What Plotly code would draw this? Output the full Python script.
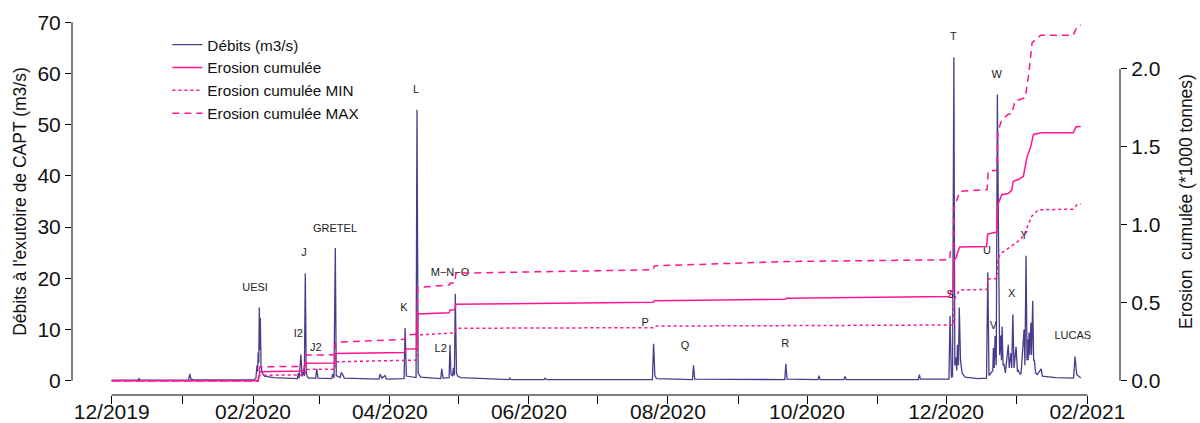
import plotly.graph_objects as go

# ---------------- data ----------------
# Discharge at outlet (m3/s)
deb_dates = [
    "2019-12-01 00:00", "2019-12-12 12:00", "2019-12-13 00:00", "2019-12-13 12:00",
    "2020-01-03 18:00", "2020-01-04 06:00", "2020-01-04 18:00", "2020-01-06 00:00",
    "2020-02-01 12:00", "2020-02-02 06:00", "2020-02-02 18:00", "2020-02-03 00:00",
    "2020-02-03 06:00", "2020-02-03 12:00", "2020-02-03 18:00", "2020-02-04 00:00",
    "2020-02-04 04:00", "2020-02-04 12:00", "2020-02-05 00:00", "2020-02-06 00:00",
    "2020-02-10 00:00", "2020-02-20 12:00", "2020-02-20 21:00", "2020-02-21 06:00",
    "2020-02-22 00:00", "2020-02-22 12:00", "2020-02-23 03:00", "2020-02-23 12:00",
    "2020-02-23 22:00", "2020-02-24 08:00", "2020-02-24 20:00", "2020-02-25 12:00",
    "2020-02-28 12:00", "2020-02-28 22:00", "2020-02-29 12:00", "2020-03-06 12:00",
    "2020-03-06 22:00", "2020-03-07 12:00", "2020-03-08 02:00", "2020-03-08 12:00",
    "2020-03-10 05:00", "2020-03-10 18:00", "2020-03-11 07:00", "2020-03-12 00:00",
    "2020-03-27 06:00", "2020-03-27 17:00", "2020-03-28 12:00", "2020-03-29 22:00",
    "2020-03-30 12:00", "2020-04-07 06:00", "2020-04-07 17:00", "2020-04-08 06:00",
    "2020-04-12 12:00", "2020-04-12 22:00", "2020-04-13 10:00", "2020-04-14 12:00",
    "2020-04-23 08:00", "2020-04-23 19:00", "2020-04-24 08:00", "2020-04-27 00:00",
    "2020-04-27 09:00", "2020-04-27 20:00", "2020-04-28 12:00", "2020-04-28 22:00",
    "2020-04-29 08:00", "2020-04-29 17:00", "2020-04-30 06:00", "2020-04-30 18:00",
    "2020-05-02 00:00", "2020-05-10 00:00", "2020-05-23 06:00", "2020-05-23 17:00",
    "2020-05-24 06:00", "2020-06-07 18:00", "2020-06-08 03:00", "2020-06-08 18:00",
    "2020-07-25 04:00", "2020-07-25 17:00", "2020-07-26 06:00", "2020-07-27 00:00",
    "2020-08-11 18:00", "2020-08-12 05:00", "2020-08-12 18:00", "2020-09-21 06:00",
    "2020-09-21 17:00", "2020-09-22 06:00", "2020-10-05 20:00", "2020-10-06 07:00",
    "2020-10-06 18:00", "2020-10-17 06:00", "2020-10-17 17:00", "2020-10-18 06:00",
    "2020-11-10 08:00", "2020-11-10 19:00", "2020-11-11 06:00", "2020-11-18 20:00",
    "2020-11-19 07:00", "2020-11-19 18:00", "2020-12-02 06:00", "2020-12-02 18:00",
    "2020-12-03 08:00", "2020-12-03 20:00", "2020-12-04 10:00", "2020-12-04 20:00",
    "2020-12-05 08:00", "2020-12-05 16:00", "2020-12-06 00:00", "2020-12-06 10:00",
    "2020-12-06 19:00", "2020-12-07 08:00", "2020-12-08 00:00", "2020-12-09 08:00",
    "2020-12-15 00:00", "2020-12-18 18:00", "2020-12-19 07:00", "2020-12-19 20:00",
    "2020-12-21 12:00", "2020-12-21 18:00", "2020-12-22 03:00", "2020-12-22 12:00",
    "2020-12-23 00:00", "2020-12-23 12:00", "2020-12-24 05:00", "2020-12-24 12:00",
    "2020-12-25 00:00", "2020-12-25 07:00", "2020-12-25 14:00", "2020-12-26 00:00",
    "2020-12-26 10:00", "2020-12-27 00:00", "2020-12-28 07:00", "2020-12-28 17:00",
    "2020-12-29 10:00", "2020-12-29 19:00", "2020-12-30 07:00", "2020-12-30 19:00",
    "2020-12-31 17:00", "2021-01-01 07:00", "2021-01-01 17:00", "2021-01-02 12:00",
    "2021-01-02 22:00", "2021-01-04 05:00", "2021-01-04 14:00", "2021-01-05 02:00",
    "2021-01-05 12:00", "2021-01-05 17:00", "2021-01-06 00:00", "2021-01-06 10:00",
    "2021-01-06 17:00", "2021-01-07 05:00", "2021-01-07 12:00", "2021-01-08 00:00",
    "2021-01-08 10:00", "2021-01-08 17:00", "2021-01-09 07:00", "2021-01-10 00:00",
    "2021-01-11 17:00", "2021-01-12 05:00", "2021-01-18 00:00", "2021-01-25 22:00",
    "2021-01-26 14:00", "2021-01-27 07:00", "2021-01-29 02:00",
]
deb_vals = [
    0.1, 0.1, 0.4, 0.1,
    0.15, 1.3, 0.3, 0.15,
    0.2, 0.5, 3.0, 1.8,
    5.5, 3.5, 14.3, 6.0,
    12.3, 3.0, 1.5, 0.9,
    0.6, 0.4, 1.5, 0.5,
    5.1, 0.8, 1.8, 0.9,
    21.0, 1.5, 0.7, 0.5,
    0.5, 2.3, 0.5, 0.4,
    1.3, 0.5, 25.9, 1.0,
    0.6, 1.6, 1.2, 0.5,
    0.3, 1.3, 0.5, 1.0,
    0.3, 0.4, 10.3, 0.9,
    0.6, 52.9, 1.5, 0.7,
    0.4, 2.3, 0.5, 0.6,
    7.0, 1.2, 0.9, 2.5,
    1.0, 17.0, 1.5, 0.9,
    0.6, 0.4, 0.2, 0.5,
    0.2, 0.2, 0.5, 0.2,
    0.2, 7.2, 1.0, 0.4,
    0.2, 3.0, 0.3, 0.2,
    3.3, 0.3, 0.2, 1.0,
    0.2, 0.2, 0.8, 0.2,
    0.2, 0.3, 0.2, 0.2,
    1.2, 0.3, 0.3, 12.7,
    0.6, 0.8, 63.2, 3.0,
    4.5, 2.0, 7.0, 3.0,
    14.3, 4.0, 1.5, 0.7,
    0.4, 0.5, 21.2, 1.0,
    2.0, 6.4, 2.5, 8.7,
    3.0, 55.9, 17.8, 5.0,
    8.8, 4.0, 10.6, 3.0,
    3.3, 1.5, 7.0, 2.5,
    5.4, 2.5, 12.9, 2.5,
    6.6, 1.8, 2.0, 1.2,
    1.5, 10.0, 3.0, 24.4,
    4.0, 8.1, 4.0, 9.4,
    5.0, 11.3, 5.0, 15.6,
    4.0, 4.0, 1.5, 1.2,
    2.3, 0.9, 0.6, 0.5,
    4.7, 1.2, 0.5,
]

# Cumulated erosion (*1000 tonnes)
ero_dates = [
    "2019-12-01 00:00", "2020-02-03 06:00", "2020-02-03 22:00", "2020-02-22 00:00",
    "2020-02-23 00:00", "2020-02-24 00:00", "2020-03-08 00:00", "2020-03-08 06:00",
    "2020-04-07 12:00", "2020-04-08 00:00", "2020-04-12 18:00", "2020-04-13 06:00",
    "2020-04-27 00:00", "2020-04-27 12:00", "2020-04-29 12:00", "2020-04-30 00:00",
    "2020-07-25 12:00", "2020-07-26 00:00", "2020-08-12 00:00", "2020-08-12 12:00",
    "2020-09-21 12:00", "2020-09-22 00:00", "2020-12-02 12:00", "2020-12-03 00:00",
    "2020-12-04 06:00", "2020-12-04 12:00", "2020-12-05 12:00", "2020-12-06 00:00",
    "2020-12-07 00:00", "2020-12-18 18:00", "2020-12-19 06:00", "2020-12-23 06:00",
    "2020-12-23 18:00", "2020-12-25 10:00", "2020-12-28 06:00", "2020-12-29 18:00",
    "2020-12-30 12:00", "2021-01-01 18:00", "2021-01-03 22:00", "2021-01-05 10:00",
    "2021-01-07 05:00", "2021-01-08 08:00", "2021-01-12 00:00", "2021-01-25 18:00",
    "2021-01-27 00:00", "2021-01-29 02:00",
]
ero_vals = [
    0.0, 0.0, 0.057, 0.058,
    0.062, 0.111, 0.113, 0.175,
    0.181, 0.203, 0.205, 0.428,
    0.436, 0.453, 0.455, 0.490,
    0.503, 0.513, 0.515, 0.518,
    0.522, 0.529, 0.539, 0.571,
    0.572, 0.775, 0.790, 0.820,
    0.857, 0.860, 0.940, 0.953,
    1.129, 1.193, 1.200, 1.221,
    1.279, 1.290, 1.311, 1.429,
    1.504, 1.579, 1.590, 1.590,
    1.628, 1.630,
]

ero_max_dates = [
    "2019-12-01 00:00", "2020-02-03 06:00", "2020-02-04 00:00", "2020-02-23 18:00",
    "2020-02-24 00:00", "2020-03-08 00:00", "2020-03-08 06:00", "2020-04-07 12:00",
    "2020-04-08 00:00", "2020-04-12 18:00", "2020-04-13 06:00", "2020-04-27 00:00",
    "2020-04-27 12:00", "2020-04-29 12:00", "2020-04-30 00:00", "2020-07-25 12:00",
    "2020-07-26 00:00", "2020-09-21 12:00", "2020-09-22 00:00", "2020-12-02 12:00",
    "2020-12-03 00:00", "2020-12-04 06:00", "2020-12-04 12:00", "2020-12-06 00:00",
    "2020-12-07 00:00", "2020-12-19 00:00", "2020-12-19 12:00", "2020-12-23 06:00",
    "2020-12-23 18:00", "2020-12-25 06:00", "2020-12-28 00:00", "2020-12-29 18:00",
    "2020-12-31 06:00", "2021-01-04 18:00", "2021-01-06 06:00", "2021-01-07 18:00",
    "2021-01-10 12:00", "2021-01-11 12:00", "2021-01-25 18:00", "2021-01-27 12:00",
    "2021-01-29 02:00",
]
ero_max_vals = [
    0.0, 0.0, 0.089, 0.092,
    0.164, 0.166, 0.246, 0.265,
    0.293, 0.297, 0.597, 0.614,
    0.625, 0.628, 0.689, 0.711,
    0.736, 0.760, 0.764, 0.775,
    0.839, 0.840, 1.107, 1.170,
    1.214, 1.225, 1.343, 1.349,
    1.600, 1.664, 1.707, 1.710,
    1.793, 1.815, 1.965, 2.168,
    2.200, 2.215, 2.215, 2.271,
    2.280,
]

ero_min_dates = [
    "2019-12-01 00:00", "2020-02-03 06:00", "2020-02-04 00:00", "2020-02-23 18:00",
    "2020-02-24 00:00", "2020-03-08 00:00", "2020-03-08 06:00", "2020-04-12 18:00",
    "2020-04-13 06:00", "2020-04-29 12:00", "2020-04-30 00:00", "2020-07-25 12:00",
    "2020-07-26 00:00", "2020-12-04 06:00", "2020-12-04 12:00", "2020-12-07 00:00",
    "2020-12-19 00:00", "2020-12-19 12:00", "2020-12-23 06:00", "2020-12-23 18:00",
    "2020-12-25 12:00", "2021-01-02 12:00", "2021-01-04 12:00", "2021-01-07 12:00",
    "2021-01-10 12:00", "2021-01-25 18:00", "2021-01-27 12:00", "2021-01-29 02:00",
]
ero_min_vals = [
    0.0, 0.0, 0.035, 0.037,
    0.072, 0.074, 0.121, 0.132,
    0.293, 0.307, 0.336, 0.340,
    0.350, 0.357, 0.520, 0.582,
    0.585, 0.652, 0.655, 0.786,
    0.820, 0.903, 0.946, 1.053,
    1.096, 1.100, 1.129, 1.135,
]

# Event labels (placed on the discharge axis)
label_text = ["UESI", "I2", "J", "J2", "GRETEL", "K", "L", "L2", "M\u2212N\u2212O",
              "P", "Q", "R", "S", "T", "U", "V", "W", "X", "Y", "LUCAS"]
label_dates = ["2020-02-01 21:00", "2020-02-20 21:00", "2020-02-23 09:00",
               "2020-02-28 12:00", "2020-03-07 23:00", "2020-04-07 05:00",
               "2020-04-12 12:00", "2020-04-23 07:00", "2020-04-27 10:00",
               "2020-07-22 00:00", "2020-08-08 12:00", "2020-09-21 10:00",
               "2020-12-02 18:00", "2020-12-04 05:00", "2020-12-18 22:00",
               "2020-12-21 19:00", "2020-12-23 05:00", "2020-12-29 19:00",
               "2021-01-04 05:00", "2021-01-25 14:00"]
label_y = [18.1, 9.0, 24.9, 6.25, 29.6, 14.2, 56.8, 6.05, 21.0,
           11.3, 6.8, 7.2, 16.6, 67.1, 25.3, 10.6, 59.6, 16.8, 28.3, 8.65]

# Axis ticks
x_tick_dates = ["2019-12-01", "2020-01-01", "2020-02-01", "2020-03-01", "2020-04-01",
                "2020-05-01", "2020-06-01", "2020-07-01", "2020-08-01", "2020-09-01",
                "2020-10-01", "2020-11-01", "2020-12-01", "2021-01-01", "2021-02-01"]
x_tick_text = ["12/2019", "", "02/2020", "", "04/2020", "", "06/2020", "", "08/2020", "",
               "10/2020", "", "12/2020", "", "02/2021"]
y_left_ticks = [0, 10, 20, 30, 40, 50, 60, 70]
y_right_ticks = [0.0, 0.5, 1.0, 1.5, 2.0]

# ---------------- styling ----------------
NAVY = "#483D8B"
PINK = "#FF1493"
FONT = "Liberation Sans, Arial, sans-serif"

fig = go.Figure()
fig.add_trace(go.Scatter(x=deb_dates, y=deb_vals, mode="lines", name="Débits (m3/s)",
                         line=dict(color=NAVY, width=1.3), yaxis="y"))
fig.add_trace(go.Scatter(x=ero_dates, y=ero_vals, mode="lines", name="Erosion cumulée",
                         line=dict(color=PINK, width=1.5), yaxis="y2"))
fig.add_trace(go.Scatter(x=ero_min_dates, y=ero_min_vals, mode="lines",
                         name="Erosion cumulée MIN",
                         line=dict(color=PINK, width=1.5, dash="dot"), yaxis="y2"))
fig.add_trace(go.Scatter(x=ero_max_dates, y=ero_max_vals, mode="lines",
                         name="Erosion cumulée MAX",
                         line=dict(color=PINK, width=1.5, dash="7px,5px"), yaxis="y2"))
fig.add_trace(go.Scatter(x=label_dates, y=label_y, mode="text", text=label_text,
                         textposition="middle center", showlegend=False,
                         textfont=dict(family=FONT, size=11, color="#222222"),
                         yaxis="y", hoverinfo="skip"))

left_range = [-2.8, 72.8]
ratio = 2.298 / 70.0
right_range = [left_range[0] * ratio, left_range[1] * ratio]

axis_common = dict(showgrid=False, zeroline=False, showline=False, ticks="outside",
                   tickcolor="#000000", tickwidth=1, automargin=False,
                   tickfont=dict(family=FONT, size=21, color="#111111"))

fig.update_layout(
    width=1200, height=423,
    margin=dict(l=72, r=80, t=8, b=28, autoexpand=False),
    paper_bgcolor="white", plot_bgcolor="white",
    font=dict(family=FONT, color="#111111"),
    xaxis=dict(range=["2019-11-13 14:00", "2021-02-15 07:00"], tickmode="array",
               tickvals=x_tick_dates, ticktext=x_tick_text, ticklen=8,
               ticklabelstandoff=-10,
               **axis_common),
    yaxis=dict(range=left_range, tickmode="array", tickvals=y_left_ticks, ticklen=6,
               title=dict(text="Débits à l'exutoire de CAPT (m3/s)",
                          font=dict(family=FONT, size=17.5, color="#111111"),
                          standoff=6),
               **axis_common),
    yaxis2=dict(range=right_range, overlaying="y", side="right", tickmode="array",
                tickvals=y_right_ticks, tickformat=".1f", ticklen=6,
                title=dict(text="Erosion  cumulée (*1000 tonnes)",
                           font=dict(family=FONT, size=17.5, color="#111111"),
                           standoff=20),
                **axis_common),
    legend=dict(x=0.091, y=0.948, xanchor="left", yanchor="top",
                bgcolor="rgba(0,0,0,0)", borderwidth=0,
                font=dict(family=FONT, size=15.3, color="#111111")),
    showlegend=True,
)

# R-style axis lines spanning only the tick range
line_style = dict(color="#000000", width=1)
fig.add_shape(type="line", xref="paper", yref="y", x0=0, x1=0,
              y0=y_left_ticks[0], y1=y_left_ticks[-1], line=line_style)
fig.add_shape(type="line", xref="paper", yref="y2", x0=1, x1=1,
              y0=y_right_ticks[0], y1=y_right_ticks[-1], line=line_style)
fig.add_shape(type="line", xref="x", yref="paper", x0=x_tick_dates[0], x1=x_tick_dates[-1],
              y0=0, y1=0, line=line_style)

fig.write_html("out.html", config={"displayModeBar": False},
               post_script="document.body.style.margin='0';document.body.style.overflow='hidden';")
